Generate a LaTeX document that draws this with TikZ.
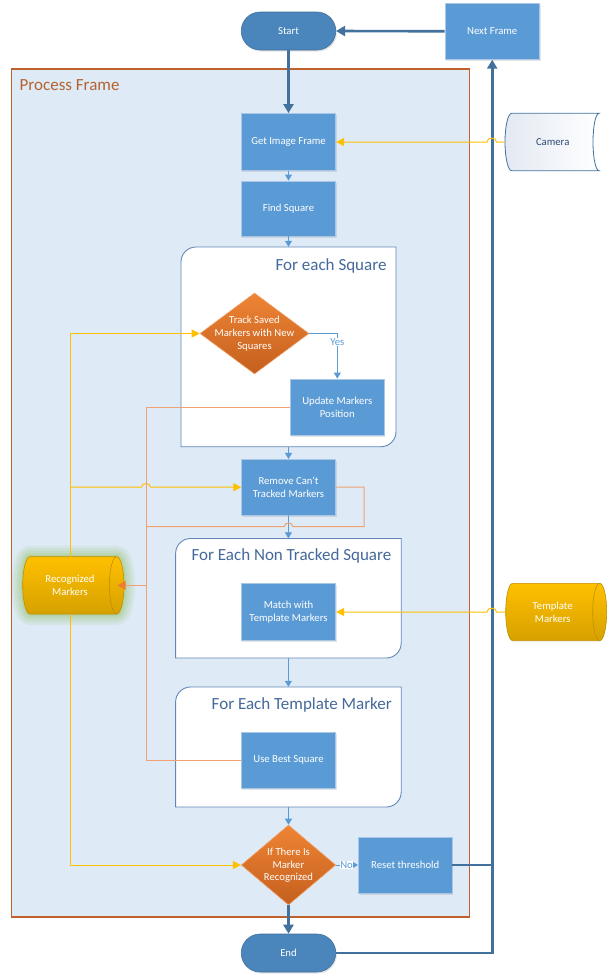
\documentclass[tikz,border=0pt]{standalone}
\usepackage{fontspec}
\setmainfont{Carlito}
\usetikzlibrary{arrows.meta,shapes.geometric,shadows}
\definecolor{boxblue}{HTML}{5B9BD5}
\definecolor{boxedge}{HTML}{A9C6E6}
\definecolor{termblue}{HTML}{4A85BB}
\definecolor{termedge}{HTML}{41719C}
\definecolor{darkline}{HTML}{41719C}
\definecolor{thinblue}{HTML}{5B9BD5}
\definecolor{yel}{HTML}{FFC000}
\definecolor{orl}{HTML}{F0A273}
\definecolor{ortip}{HTML}{ED7D31}
\definecolor{frfill}{HTML}{DEEAF6}
\definecolor{fredge}{HTML}{C0602A}
\definecolor{frtitle}{HTML}{B5622F}
\definecolor{ctedge}{HTML}{6288B8}
\definecolor{cttitle}{HTML}{44699A}
\definecolor{dtop}{HTML}{EE8434}
\definecolor{dbot}{HTML}{C45F1E}
\definecolor{dedge}{HTML}{F2A46E}
\definecolor{gtop}{HTML}{FFC000}
\definecolor{gbot}{HTML}{D6A100}
\definecolor{gedge}{HTML}{BF9000}
\definecolor{camedge}{HTML}{41719C}
\definecolor{camfill}{HTML}{E3E9F2}
\definecolor{camtext}{HTML}{2C4A72}
\definecolor{glow}{HTML}{8FBE5E}
\begin{document}
\begin{tikzpicture}[x=1pt,y=-1pt,
  txt/.style={font=\fontsize{10.7}{13}\selectfont, text=white, align=center},
  procbox/.style={txt, rectangle, fill=boxblue, draw=boxedge, line width=0.8pt,
     minimum width=94.5pt, minimum height=56pt, inner sep=1pt,
     drop shadow={opacity=0.2, shadow xshift=1.2pt, shadow yshift=-1.6pt}},
  term/.style={txt, rectangle, rounded corners=18.9pt, fill=termblue, draw=termedge,
     line width=0.6pt, minimum width=94.5pt, minimum height=38pt, inner sep=1pt,
     drop shadow={opacity=0.2, shadow xshift=1.2pt, shadow yshift=-1.6pt}},
  dec/.style={diamond, inner sep=0pt, top color=dtop, bottom color=dbot,
     draw=dedge, line width=0.6pt},
  ghost/.style={rectangle, draw=none, fill=none, inner sep=0pt},
  cttl/.style={font=\fontsize{17}{20}\selectfont, text=cttitle, inner sep=0pt},
  ctshape/.style={fill=white, draw=ctedge, line width=0.9pt},
  gold/.style={top color=gtop, bottom color=gbot, draw=gedge, line width=0.6pt},
  dline/.style={draw=darkline, line width=2.6pt, -{Triangle[length=9pt,width=10pt]}},
  dplain/.style={draw=darkline, line width=2.6pt},
  bline/.style={draw=thinblue, line width=0.8pt, -{Triangle[length=6pt,width=7pt]}},
  yline/.style={draw=yel, line width=1pt},
  yarrow/.style={yline, -{Triangle[length=8pt,width=8pt]}},
  oline/.style={draw=orl, line width=1pt},
  oarrow/.style={oline, -{Triangle[length=8pt,width=9pt,color=ortip]}},
  lbl/.style={font=\fontsize{10.7}{13}\selectfont, text=thinblue, fill=white, inner sep=0.6pt}
]
\useasboundingbox (0,0) rectangle (612,980);
\fill[white] (0,0) rectangle (612,980);

% Process frame
\node[rectangle, draw=fredge, fill=frfill, line width=1.1pt, minimum width=457.8pt,
      minimum height=848pt, inner sep=0pt] (pf) at (240.6,493) {};
\node[anchor=base west, font=\fontsize{17}{20}\selectfont, text=frtitle, inner sep=0pt]
      (pftitle) at (19.5,90.7) {Process Frame};

% Containers
\path[ctshape] (181,446.7) -- (181,262) .. controls (181,253.7) and (187.7,247) .. (196,247)
   -- (396,247) -- (396,431.7) .. controls (396,440) and (389.3,446.7) .. (381,446.7) -- cycle;
\node[ghost, minimum width=215pt, minimum height=199.7pt] (fes) at (288.5,346.85) {};
\node[cttl, anchor=base east] (fest) at (386.7,270) {For each Square};

\path[ctshape] (175.6,658) -- (175.6,553.5) .. controls (175.6,545.2) and (182.3,538.5) .. (190.6,538.5)
   -- (401.2,538.5) -- (401.2,643) .. controls (401.2,651.3) and (394.5,658) .. (386.2,658) -- cycle;
\node[ghost, minimum width=225.6pt, minimum height=119.5pt] (nts) at (288.4,598.25) {};
\node[cttl, anchor=base east] (ntst) at (391.5,560.7) {For Each Non Tracked Square};

\path[ctshape] (175.6,807) -- (175.6,702) .. controls (175.6,693.7) and (182.3,687) .. (190.6,687)
   -- (401.2,687) -- (401.2,792) .. controls (401.2,800.3) and (394.5,807) .. (386.2,807) -- cycle;
\node[ghost, minimum width=225.6pt, minimum height=120pt] (tms) at (288.4,747) {};
\node[cttl, anchor=base east] (tmst) at (392,709.3) {For Each Template Marker};

% Terminals and boxes
\node[term] (start) at (288.5,31) {Start};
\node[term] (end) at (288.5,953) {End};
\node[procbox, minimum width=94.4pt] (next) at (492.2,31.3) {Next Frame};
\node[procbox, minimum height=57pt] (getimg) at (288.5,142) {Get Image Frame};
\node[procbox, minimum height=55pt] (findsq) at (288.5,208.5) {Find Square};
\node[procbox, minimum width=93.3pt] (update) at (337.3,407) {Update Markers\\Position};
\node[procbox, minimum width=93.6pt, minimum height=55.7pt] (remove) at (288.5,487.2) {Remove Can\textquotesingle t\\Tracked Markers};
\node[procbox, minimum height=57pt] (match) at (288.5,612) {Match with\\Template Markers};
\node[procbox] (usebest) at (288.5,760.3) {Use Best Square};
\node[procbox, minimum width=93.7pt] (reset) at (405.2,865) {Reset threshold};

% Decisions
\node[dec, minimum width=109pt, minimum height=81pt] (track) at (254.5,333.5) {};
\node[txt, inner sep=0pt] (trackt) at (254.5,333.5) {Track Saved\\Markers with New\\Squares};
\node[dec, minimum width=94.5pt, minimum height=80pt] (ifd) at (288.5,865) {};
\node[txt, inner sep=0pt, font=\fontsize{10.7}{12.5}\selectfont] (ifdt) at (288.5,865.5) {If There Is\\Marker\\Recognized};

% Camera (stored data)
\path[left color=camfill, right color=white, draw=camedge, line width=0.8pt]
  (511.7,113.3) -- (599,113.3) .. controls (595.7,113.3) and (593,126.2) .. (593,142)
  .. controls (593,157.8) and (595.7,170.7) .. (599,170.7) -- (511.7,170.7)
  .. controls (508,170.7) and (505,157.8) .. (505,142)
  .. controls (505,126.2) and (508,113.3) .. (511.7,113.3) -- cycle;
\node[ghost, minimum width=95.4pt, minimum height=57.4pt, font=\fontsize{10.7}{13}\selectfont, text=camtext] (cam) at (552.7,142) {Camera};

% Template markers (cylinder)
\path[gold] (512.7,583.3) -- (599.7,583.3) .. controls (603.6,583.3) and (606.7,596.2) .. (606.7,612)
  .. controls (606.7,627.8) and (603.6,640.7) .. (599.7,640.7) -- (512.7,640.7)
  .. controls (508.8,640.7) and (505.7,627.8) .. (505.7,612)
  .. controls (505.7,596.2) and (508.8,583.3) .. (512.7,583.3) -- cycle;
\draw[gedge, line width=0.6pt] (599.7,583.3) .. controls (595.8,583.3) and (592.7,596.2) .. (592.7,612)
  .. controls (592.7,627.8) and (595.8,640.7) .. (599.7,640.7);
\node[ghost, txt, minimum width=94pt, minimum height=57.4pt] (tmk) at (552.7,612) {Template\\Markers};

% Recognized markers (cylinder with glow)
\foreach \w/\o in {22/0.10, 17/0.12, 12/0.14, 7/0.16, 3/0.2}{
  \draw[glow, line width=\w pt, opacity=\o, line join=round]
  (30,556.7) -- (116.7,556.7) .. controls (120.7,556.7) and (124,569.5) .. (124,585.35)
  .. controls (124,601.2) and (120.7,614) .. (116.7,614) -- (30,614)
  .. controls (26,614) and (22.7,601.2) .. (22.7,585.35)
  .. controls (22.7,569.5) and (26,556.7) .. (30,556.7) -- cycle;
}
\path[gold] (30,556.7) -- (116.7,556.7) .. controls (120.7,556.7) and (124,569.5) .. (124,585.35)
  .. controls (124,601.2) and (120.7,614) .. (116.7,614) -- (30,614)
  .. controls (26,614) and (22.7,601.2) .. (22.7,585.35)
  .. controls (22.7,569.5) and (26,556.7) .. (30,556.7) -- cycle;
\draw[gedge, line width=0.6pt] (116.7,556.7) .. controls (112.7,556.7) and (109.4,569.5) .. (109.4,585.35)
  .. controls (109.4,601.2) and (112.7,614) .. (116.7,614);
\node[ghost, txt, minimum width=94.6pt, minimum height=57.3pt] (rec) at (70,585.35) {Recognized\\Markers};

% Coordinates
\coordinate (ojoin) at (146,585.35);
\coordinate (ybranch) at (70,487.2);

% Dark connectors
\draw[dline] (next.west) -- (start.east);
\draw[dline] (start.south) -- (getimg.north);
\draw[dline] (ifd.south) -- (end.north);
\draw[dline] (end.east) -| (next.south);
\draw[dplain] (reset.east) -- (reset.east -| next.south);

% Thin blue connectors
\draw[bline] (getimg.south) -- (findsq.north);
\draw[bline] (findsq.south) -- (fes.north);
\draw[bline] (fes.south) -- (remove.north);
\draw[bline] (remove.south) -- (nts.north);
\draw[bline] (nts.south) -- (tms.north);
\draw[bline] (tms.south) -- (ifd.north);
\draw[bline] (track.east) -| (update.north);
\node[lbl] (yes) at (337.3,341.7) {Yes};
\draw[bline] (ifd.east) -- (reset.west);
\node[lbl] (no) at (346.6,865) {No};

% Yellow connectors
\draw[yarrow] (cam.west) -- (496.5,142) .. controls (496.5,136.8) and (487,136.8) .. (487,142) -- (getimg.east);
\draw[yarrow] (tmk.west) -- (496.5,612) .. controls (496.5,606.8) and (487,606.8) .. (487,612) -- (match.east);
\draw[yarrow] (rec.north) |- (track.west);
\draw[yarrow] (ybranch) -- (141.5,487.2) .. controls (141.5,482.3) and (150.5,482.3) .. (150.5,487.2) -- (remove.west);
\draw[yarrow] (rec.south) |- (ifd.west);

% Orange connectors
\draw[oline] (update.west) -| (ojoin);
\draw[oline] (usebest.west) -| (ojoin);
\draw[oline] (remove.east) -- (364,487.2) -- (364,526.7) -- (292.8,526.7)
   .. controls (292.8,521.7) and (284.2,521.7) .. (284.2,526.7) -- (146,526.7);
\draw[oarrow] (ojoin) -- (rec.east);
\end{tikzpicture}
\end{document}
